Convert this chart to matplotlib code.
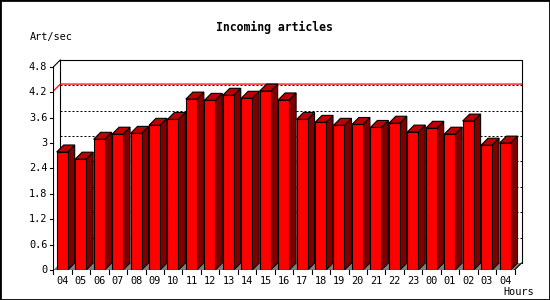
import matplotlib
matplotlib.use("Agg")
import matplotlib.pyplot as plt
from matplotlib.patches import Polygon, Rectangle

hours = ['04', '05', '06', '07', '08', '09', '10', '11', '12', '13', '14', '15',
         '16', '17', '18', '19', '20', '21', '22', '23', '00', '01', '02', '03', '04']
rates = [2.79, 2.62, 3.09, 3.21, 3.23, 3.42, 3.56, 4.04, 4.01, 4.13, 4.06, 4.23,
         4.02, 3.56, 3.49, 3.42, 3.44, 3.37, 3.47, 3.26, 3.35, 3.21, 3.52, 2.95, 3.00]
yticks = [0, 0.6, 1.2, 1.8, 2.4, 3, 3.6, 4.2, 4.8]
ytick_labels = ['0', '0.6', '1.2', '1.8', '2.4', '3', '3.6', '4.2', '4.8']
title = 'Incoming articles'
ylabel = 'Art/sec'
xlabel = 'Hours'

FW, FH = 550, 300
SLOT_PX, UNIT_PX = 18.45, 42.3
X0, Y0 = 53.3, 270.0          # front origin in pixels (from top-left)
W, H = 480.0, 225.0
DX, DY = 7.0 / SLOT_PX, 7.0 / UNIT_PX
BAR_OFF, BAR_W = 3.4 / SLOT_PX, 11.0 / SLOT_PX
FONT = 'DejaVu Sans Mono'

fig = plt.figure(figsize=(FW / 100, FH / 100), dpi=100)
fig.patch.set_facecolor('white')
ax = fig.add_axes([X0 / FW, (FH - Y0) / FH, W / FW, H / FH])
ax.set_xlim(0, W / SLOT_PX)
ax.set_ylim(0, H / UNIT_PX)
ax.axis('off')

n = len(rates)
ymax = yticks[-1]

# floor
ax.add_patch(Polygon([(0, 0), (n, 0), (n + DX, DY), (DX, DY)], closed=True,
                     facecolor='#808080', edgecolor='none', zorder=1))
# back wall outline
ax.plot([DX, DX, n + DX, n + DX], [DY, ymax + DY, ymax + DY, DY], color='black', lw=0.8, zorder=2)
ax.plot([0, DX], [ymax, ymax + DY], color='black', lw=0.8, zorder=2)
# grid lines on back wall
for t in yticks[1:-1]:
    ax.plot([DX, n + DX], [t + DY, t + DY], color='black', lw=0.72,
            linestyle=(0, (2, 2)), zorder=2)
# max line
mx = max(rates)
ax.plot([0, DX, n + DX], [mx, mx + DY, mx + DY], color='#ff0000', lw=0.9, zorder=3)

# bars
for i, v in enumerate(rates):
    xl = i + BAR_OFF
    ax.bar(xl, v, width=BAR_W, align='edge', color='#ff0000', edgecolor='black',
           linewidth=0.8, zorder=5)
    ax.add_patch(Polygon([(xl + BAR_W, 0), (xl + BAR_W + DX, DY), (xl + BAR_W + DX, v + DY),
                          (xl + BAR_W, v)], closed=True, facecolor='#800000',
                         edgecolor='black', linewidth=0.8, zorder=4))
    ax.add_patch(Polygon([(xl, v), (xl + BAR_W, v), (xl + BAR_W + DX, v + DY), (xl + DX, v + DY)],
                         closed=True, facecolor='#c00000', edgecolor='black',
                         linewidth=0.8, zorder=4))

# right back edge to front
ax.plot([n + DX, n], [DY, 0], color='black', lw=0.8, zorder=6)
# front axes
ax.plot([0, 0], [0, ymax], color='black', lw=0.8, zorder=6)
ax.plot([0, n], [0, 0], color='black', lw=0.8, zorder=6)
tick_len = 3.5 / SLOT_PX
for t, lab in zip(yticks, ytick_labels):
    ax.plot([-tick_len, 0], [t, t], color='black', lw=0.8, zorder=6, clip_on=False)
    ax.text(-6.0 / SLOT_PX, t, lab, ha='right', va='center', fontsize=7.4,
            family=FONT, clip_on=False)
for k in range(n + 1):
    ax.plot([k, k], [0, -4.0 / UNIT_PX], color='black', lw=0.8, zorder=6, clip_on=False)
for i, lab in enumerate(hours):
    ax.text(i + 0.5, -10.5 / UNIT_PX, lab, ha='center', va='center', fontsize=7.4,
            family=FONT, clip_on=False)

fig.text(274 / FW, 1 - 27 / FH, title, ha='center', va='center', fontsize=8.3,
         fontweight='bold', family=FONT)
fig.text(30 / FW, 1 - 37 / FH, ylabel, ha='left', va='center', fontsize=7.4, family=FONT)
fig.text(534 / FW, 1 - 292 / FH, xlabel, ha='right', va='center', fontsize=7.4, family=FONT)

fig.add_artist(Rectangle((0, 0), 1, 1, transform=fig.transFigure, fill=False,
                         edgecolor='black', linewidth=2))

fig.savefig('out.png', dpi=100, facecolor='white')
